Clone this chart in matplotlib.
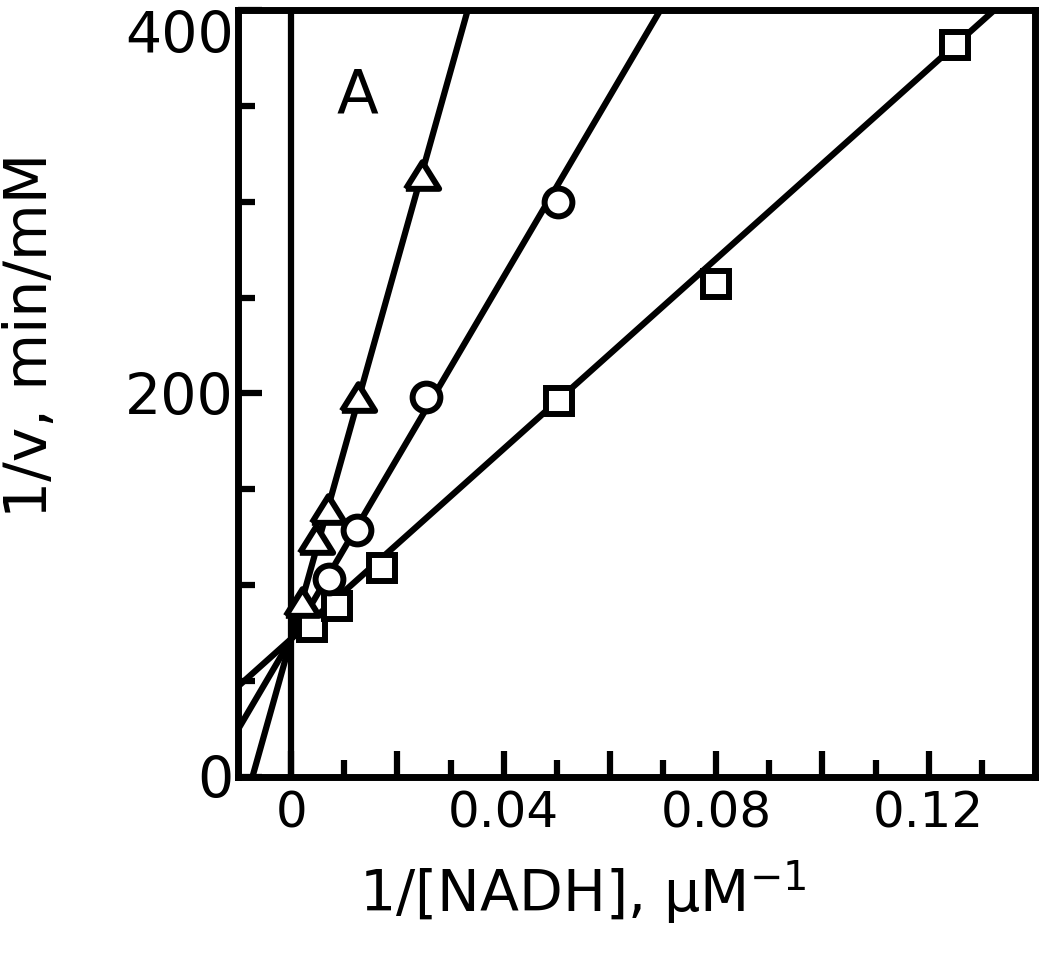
import numpy as np
import matplotlib
matplotlib.use("Agg")
from matplotlib import pyplot as plt

plt.rcParams['font.family'] = ['DejaVu Sans']

# Lineweaver-Burk data
sq_x = [0.0040, 0.0087, 0.0171, 0.0504, 0.0800, 0.1250]
sq_y = [78, 89, 109, 196, 257, 382]
ci_x = [0.0071, 0.0124, 0.0254, 0.0502]
ci_y = [103, 129, 198, 300]
tr_x = [0.0020, 0.0047, 0.0070, 0.0126, 0.0246]
tr_y = [91, 124, 140, 198, 314]

# common 1/Vmax intercept and slopes of the fitted lines (squares, circles, triangles)
fit_intercept = 72
fit_slopes = [2478, 4720, 9870]

x_ticks = [0, 0.02, 0.04, 0.06, 0.08, 0.10, 0.12]
x_ticklabels = ['0', '', '0.04', '', '0.08', '', '0.12']
x_minor = [0.01, 0.03, 0.05, 0.07, 0.09, 0.11, 0.13]
y_ticks = [0, 200, 400]
y_minor = [50, 100, 150, 250, 300, 350]

lw = 4.5
# flattish open triangle, closed path
tri = [(-1, -0.8), (1, -0.8), (0, 0.8), (-1, -0.8)]

fig = plt.figure(figsize=(10.5, 9.61), dpi=100)
ax = fig.add_axes([0.2267, 0.1915, 0.759, 0.7981])
ax.set_xlim(-0.01, 0.14)
ax.set_ylim(0, 400)

#fitted lines across the whole x range
xx = np.array(ax.get_xlim())
for s in fit_slopes:
    ax.plot(xx, fit_intercept + s*xx, c='k', lw=lw, zorder=2)
ax.axvline(0, c='k', lw=lw, zorder=2)

mk = dict(ls='none', mfc='white', mec='k', mew=4.3, zorder=3, clip_on=False)
ax.plot(sq_x, sq_y, marker='s', ms=19, **mk)
ax.plot(ci_x, ci_y, marker='o', ms=20, **mk)
ax.plot(tr_x, tr_y, marker=tri, ms=24, **mk)

ax.text(0.0125, 355, 'A', fontsize=44, ha='center', va='center')

for sp in ax.spines.values():
    sp.set_linewidth(5)

ax.set_xticks(x_ticks)
ax.set_xticklabels(x_ticklabels)
ax.set_xticks(x_minor, minor=True)
ax.set_yticks(y_ticks)
ax.set_yticks(y_minor, minor=True)
ax.tick_params(axis='x', which='major', direction='in', length=19, width=4.5, labelsize=36, pad=9)
ax.tick_params(axis='x', which='minor', direction='in', length=12, width=4.5)
ax.tick_params(axis='y', which='major', direction='in', length=17, width=4.5, labelsize=41, pad=3)
ax.tick_params(axis='y', which='minor', direction='in', length=12, width=4.5)
ax.get_yticklabels()[-1].set_va('top')

ax.set_xlabel(r'1/[NADH], µM$^{-1}$', fontsize=41, va='center')
ax.xaxis.set_label_coords(0.433, -0.151)
ax.set_ylabel('1/v, min/mM', fontsize=42, va='center')
ax.yaxis.set_label_coords(-0.261, 0.576)

plt.savefig('out.png', dpi=100)
